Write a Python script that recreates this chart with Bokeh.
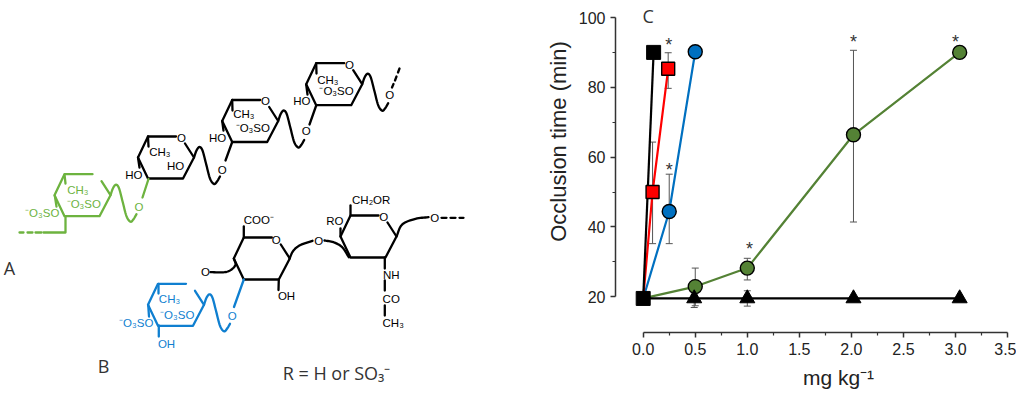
import numpy as np
from bokeh.core.properties import value
from bokeh.embed import file_html
from bokeh.models import ColumnDataSource, FixedTicker, NumeralTickFormatter, Range1d, TeeHead, Whisker
from bokeh.plotting import figure
from bokeh.resources import INLINE

# ---------------- chart values ----------------
black_sq_x = [0.0, 0.1]
black_sq_y = [19.5, 90]
red_x = [0.0, 0.09, 0.24]
red_y = [19.5, 50, 85.3]
blue_x = [0.0, 0.25, 0.5]
blue_y = [19.5, 44.4, 90.2]
green_x = [0.0, 0.5, 1.0, 2.02, 3.04]
green_y = [19.5, 22.9, 28.2, 66.4, 90]
tri_x = [0.0, 0.49, 1.0, 2.02, 3.04]
tri_y = [19.5, 19.5, 19.5, 19.5, 19.5]

err_x = [0.09, 0.24, 0.25, 0.5, 1.0, 2.02, 0.49, 1.0]
err_low = [35.2, 79.7, 35.2, 17.4, 24.8, 41.4, 16.9, 17.3]
err_up = [64.3, 89.9, 55.1, 28.2, 31.0, 90.6, 20.5, 21.7]

star_x = [0.245, 0.25, 1.02, 2.02, 3.0]
star_y = [92.0, 56.2, 33.8, 93.1, 93.1]

x_ticks = [0, 0.5, 1, 1.5, 2, 2.5, 3, 3.5]
x_minor = [0.25, 0.75, 1.25, 1.75, 2.25, 2.75, 3.25]
y_ticks = [20, 40, 60, 80, 100]
y_minor = [30, 50, 70, 90]

# ---------------- palette ----------------
C_GREEN_M = "#548235"
C_BLUE_M = "#0070C0"
C_RED = "#FF0000"
C_AXIS = "#333333"
C_TEXT = "#222222"
S_GREEN = "#6DB33F"
S_BLUE = "#0F7FD0"
S_BLACK = "#000000"

W, H = 1016, 390
PX_X = 104.1
PX_Y = 3.49
X0 = 642.7
Y20 = 296.2


def dx(px):
    return (px - X0) / PX_X


def dy(px):
    return 20 + (Y20 - px) / PX_Y


p = figure(width=W, height=H, x_range=Range1d(dx(0), dx(W)), y_range=Range1d(dy(H), dy(0)),
           toolbar_location=None, output_backend="svg", min_border=0)
p.extra_x_ranges = {"px": Range1d(0, W)}
p.extra_y_ranges = {"px": Range1d(H, 0)}
p.outline_line_color = None
p.grid.visible = False
PX = dict(x_range_name="px", y_range_name="px")

# ---------------- geometry of the structural formula (reference pixels) ----------------
RING = [(33, 1), (46, 21), (35, 42), (0, 42), (-10, 21), (0, 0), (28, 0)]  # from the ring's upper-left corner
WAVE = [(0, 0), (2.5, -7), (5.5, -10.5), (8.5, -7), (12, 6), (16, 21), (20, 26.5), (23, 24), (26, 19)]


def smooth(pts, n=8):
    pts = np.array(pts, float)
    q = np.vstack([2 * pts[0] - pts[1], pts, 2 * pts[-1] - pts[-2]])
    xs, ys = [], []
    for i in range(1, len(q) - 2):
        for t in np.linspace(0, 1, n, endpoint=False):
            r = 0.5 * ((2 * q[i]) + (q[i + 1] - q[i - 1]) * t
                       + (2 * q[i - 1] - 5 * q[i] + 4 * q[i + 1] - q[i + 2]) * t ** 2
                       + (3 * q[i] - q[i - 1] - 3 * q[i + 1] + q[i + 2]) * t ** 3)
            xs.append(r[0])
            ys.append(r[1])
    xs.append(pts[-1, 0])
    ys.append(pts[-1, 1])
    return xs, ys


def stroke(pts, color, w=2.3):
    p.line([a for a, _ in pts], [b for _, b in pts], line_color=color, line_width=w,
           line_cap="round", line_join="round", **PX)


def curve(pts, color, w=2.3):
    xs, ys = smooth(pts)
    p.line(xs, ys, line_color=color, line_width=w, line_cap="round", line_join="round", **PX)


def ring(tlx, tly, color):
    pts = [(tlx + a, tly + b) for a, b in RING]
    stroke([(pts[0][0] + 4, pts[0][1] + 6)] + pts[1:], color)


def wave(tlx, tly, color):
    curve([(tlx + 46 + a, tly + 21 + b) for a, b in WAVE], color)


rings = [(64, 173.7, S_GREEN), (147.5, 136, S_BLACK), (231.7, 99.5, S_BLACK), (315.7, 62.7, S_BLACK),
         (157.5, 283.3, S_BLUE), (243.3, 237, S_BLACK), (350, 215, S_BLACK)]
for tx, ty, col in rings:
    ring(tx, ty, col)
for tx, ty, col in rings[:5]:
    wave(tx, ty, col)

# stems and glycosidic bonds
stroke([(64, 174), (65, 183)], S_GREEN)
stroke([(54.3, 195), (56, 206)], S_GREEN)
stroke([(65, 216), (65, 232), (43, 232)], S_GREEN)
stroke([(35, 232), (41, 232)], S_GREEN)
stroke([(27, 232), (32, 232)], S_GREEN)
stroke([(19, 232), (23, 232)], S_GREEN)
stroke([(142, 197), (148, 178.5)], S_GREEN)

stroke([(147.5, 136), (148, 146)], S_BLACK)
stroke([(137.5, 157), (139, 167)], S_BLACK)
stroke([(225, 160), (231.7, 141.5)], S_BLACK)
stroke([(231.7, 99.5), (232, 110)], S_BLACK)
stroke([(221.7, 120.5), (223, 130)], S_BLACK)
stroke([(309, 124), (315.7, 105)], S_BLACK)
stroke([(315.7, 62.7), (316, 73)], S_BLACK)
stroke([(305.7, 84), (307, 94)], S_BLACK)
stroke([(391.5, 87), (393, 83.5)], S_BLACK)
stroke([(394.5, 80), (396, 76)], S_BLACK)
stroke([(397.5, 72), (399, 68)], S_BLACK)

stroke([(158, 283.5), (158, 293)], S_BLUE)
stroke([(147.7, 304.3), (148.5, 316)], S_BLUE)
stroke([(158.3, 325), (158.3, 336)], S_BLUE)
stroke([(233.5, 306.5), (243.3, 279)], S_BLUE)

stroke([(243.3, 237), (243.3, 226)], S_BLACK)
stroke([(278.3, 279), (278, 289.5)], S_BLACK)
curve([(210, 271.7), (224, 271.7), (231, 269), (235, 264), (233.3, 258)], S_BLACK)
curve([(289, 258), (293, 250), (300, 244.5), (312, 240.3)], S_BLACK)
curve([(324, 240), (333, 241.7), (341.7, 246.7), (348.3, 256.7)], S_BLACK)
stroke([(350, 215), (350, 205)], S_BLACK)
stroke([(340, 236), (340, 228)], S_BLACK)
curve([(396, 236), (401.7, 224), (415, 218.3), (428, 216.7)], S_BLACK)
stroke([(441, 217.3), (446, 217.3)], S_BLACK)
stroke([(450, 217.3), (455, 217.3)], S_BLACK)
stroke([(459, 217.3), (463, 217.3)], S_BLACK)
stroke([(384.3, 257), (384.3, 268)], S_BLACK)
stroke([(384.3, 280), (384.3, 290)], S_BLACK)
stroke([(384.3, 305), (384.3, 315)], S_BLACK)

chem_green = [("CH₃", 77.3, 189.3), ("⁻O₃SO", 83.3, 203.3), ("⁻O₃SO", 41.7, 212.7), ("O", 138.5, 206)]
chem_blue = [("CH₃", 169, 298.3), ("⁻O₃SO", 176.7, 314), ("⁻O₃SO", 135.7, 322), ("OH", 166, 343.3), ("O", 231.7, 315)]
chem_black = [("CH₃", 159.3, 151.7), ("HO", 175, 165.7), ("HO", 133.3, 174), ("O", 181, 137.5), ("O", 221.7, 169.3),
              ("CH₃", 243.3, 113.3), ("⁻O₃SO", 252.3, 127.3), ("HO", 217, 137.7), ("O", 265, 100.5), ("O", 305.7, 130.5),
              ("CH₃", 327.3, 79.3), ("⁻O₃SO", 336, 90.7), ("HO", 301.3, 100.7), ("O", 349, 64), ("O", 389.3, 94),
              ("COO⁻", 258.3, 219.3), ("OH", 286, 295), ("O", 205, 271.7), ("O", 275.7, 239), ("O", 318.3, 240),
              ("CH₂OR", 370.7, 199), ("RO", 334.3, 220.7), ("O", 383.3, 216.7), ("O", 434.3, 217.3),
              ("NH", 390.7, 274), ("CO", 390.7, 298.3), ("CH₃", 392.7, 322.3)]
for group, col in ((chem_green, S_GREEN), (chem_blue, S_BLUE), (chem_black, S_BLACK)):
    p.text([g[1] for g in group], [g[2] for g in group], text=[g[0] for g in group], text_color=col,
           text_font=value("Liberation Sans"), text_font_size="11.5px", text_align="center",
           text_baseline="middle", **PX)

p.text([336, 9, 103, 647.7], [372, 267, 365, 15], text=["R = H or SO₃⁻", "A", "B", "C"], text_color="#333333",
       text_font=value("Open Sans"), text_font_size="18px", text_align="center", text_baseline="middle", **PX)
p.text([558], [141], text=["Occlusion time (min)"], angle=np.pi / 2, text_color=C_TEXT,
       text_font=value("Liberation Sans"), text_font_size="22px", text_align="center", text_baseline="middle", **PX)
p.text([838], [377], text=["mg kg⁻¹"], text_color=C_TEXT,
       text_font=value("Liberation Sans"), text_font_size="21px", text_align="center", text_baseline="middle", **PX)

# ---------------- the chart ----------------
xa = p.xaxis[0]
xa.fixed_location = dy(332)
xa.bounds = (0, 3.5)
xa.ticker = FixedTicker(ticks=x_ticks, minor_ticks=x_minor)
xa.formatter = NumeralTickFormatter(format="0.0")
ya = p.yaxis[0]
ya.fixed_location = dx(615)
ya.bounds = (20, 100)
ya.ticker = FixedTicker(ticks=y_ticks, minor_ticks=y_minor)
for ax in (xa, ya):
    ax.axis_line_color = C_AXIS
    ax.axis_line_width = 1.5
    ax.major_tick_line_color = C_AXIS
    ax.minor_tick_line_color = C_AXIS
    ax.major_tick_line_width = 1.5
    ax.minor_tick_line_width = 1.2
    ax.major_tick_in = 0
    ax.major_tick_out = 5
    ax.minor_tick_in = 0
    ax.minor_tick_out = 3
    ax.major_label_text_font = "Liberation Sans"
    ax.major_label_text_font_size = "16px"
    ax.major_label_text_color = C_TEXT
    ax.major_label_standoff = 5

err_source = ColumnDataSource(dict(x=err_x, lower=err_low, upper=err_up))
p.add_layout(Whisker(source=err_source, base="x", lower="lower", upper="upper", dimension="height",
                     line_color="#555555", line_width=1,
                     upper_head=TeeHead(size=7, line_color="#555555", line_width=1),
                     lower_head=TeeHead(size=7, line_color="#555555", line_width=1)))

p.line(green_x, green_y, line_color=C_GREEN_M, line_width=2.2)
p.line(blue_x, blue_y, line_color=C_BLUE_M, line_width=2.2)
p.line(red_x, red_y, line_color=C_RED, line_width=2.2)
p.line(black_sq_x, black_sq_y, line_color="black", line_width=2.2)
p.line(tri_x, tri_y, line_color="black", line_width=2.2)

p.scatter(green_x[1:], green_y[1:], marker="circle", size=14, fill_color=C_GREEN_M, line_color="black", line_width=1.4)
p.scatter(blue_x[1:], blue_y[1:], marker="circle", size=14, fill_color=C_BLUE_M, line_color="black", line_width=1.4)
p.scatter(red_x[1:], red_y[1:], marker="square", size=13, fill_color=C_RED, line_color="black", line_width=1.4)
p.scatter(tri_x[1:], tri_y[1:], marker="triangle", size=15, fill_color="black", line_color="black")
p.scatter(black_sq_x, black_sq_y, marker="square", size=14, fill_color="black", line_color="black")

p.text(star_x, star_y, text=["*"] * len(star_x), text_color="#333333", text_font=value("Liberation Sans"),
       text_font_size="18px", text_align="center", text_baseline="middle")

open("out.html", "w").write(file_html(p, INLINE))
